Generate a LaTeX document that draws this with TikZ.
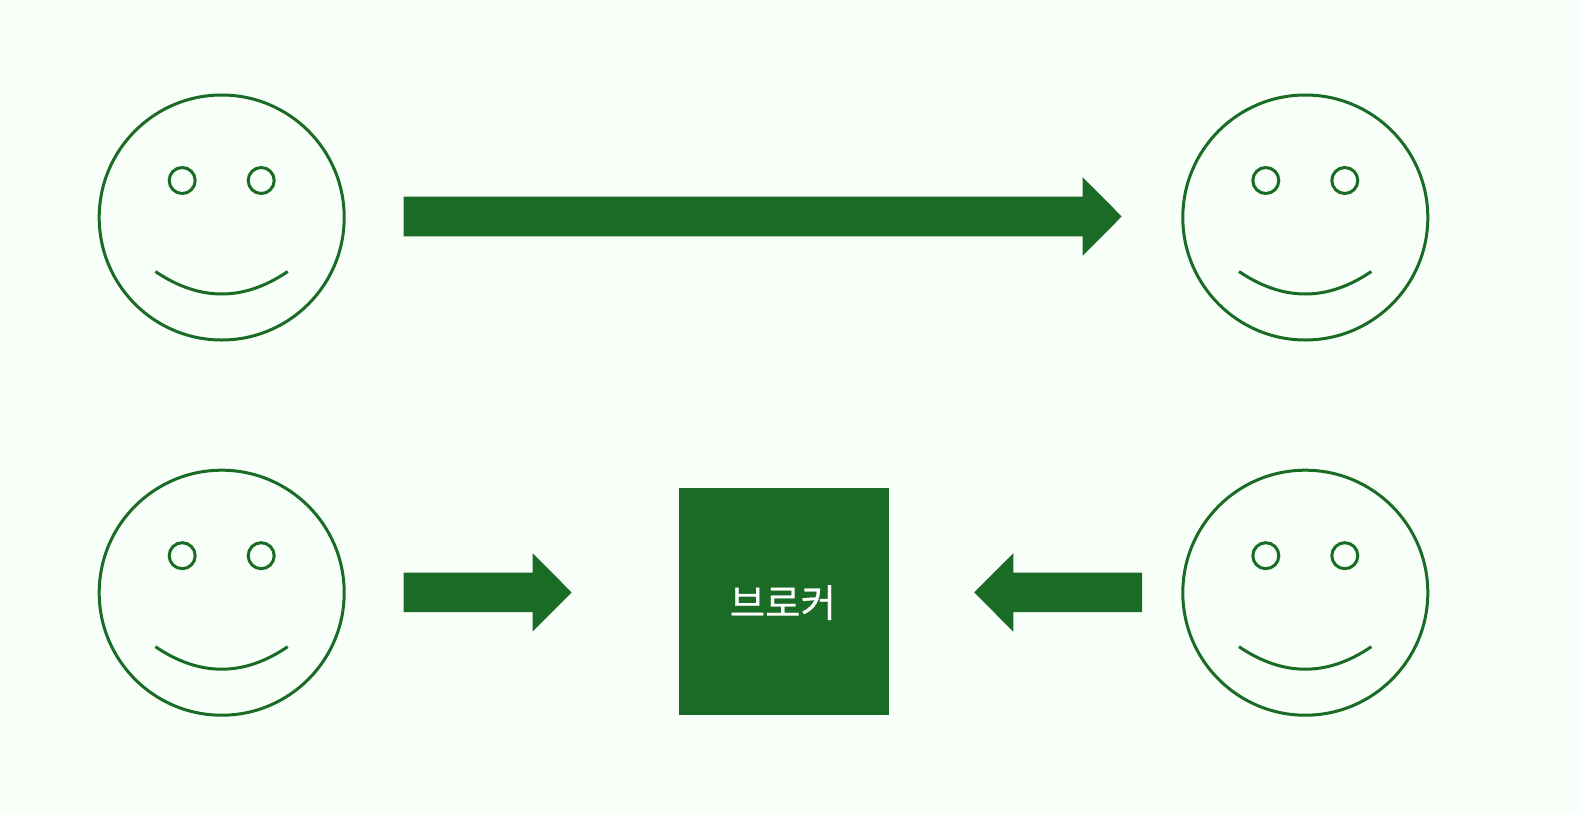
\documentclass[tikz,border=0pt]{standalone}
\usepackage{fontspec}
\newfontfamily\cjk{Noto Sans CJK KR}[FakeBold=0.4]
\definecolor{bgc}{HTML}{F8FEF8}
\definecolor{grn}{HTML}{1A6B25}
\tikzset{
  facering/.style={circle,draw=grn,line width=3pt,minimum size=245pt,inner sep=0pt},
  eyering/.style={circle,draw=grn,line width=3pt,minimum size=26pt,inner sep=0pt},
  smile/.style={draw=grn,line width=3pt},
  blockarrow/.style={fill=grn,draw=none},
  smiley/.pic={
    \node[facering] (-ring) at (0,0) {};
    \node[eyering] (-eyeL) at (-39.5,-37) {};
    \node[eyering] (-eyeR) at (39.5,-37) {};
    \draw[smile] (-66.3,54) .. controls (-22,84) and (22,84) .. (66,54);
  }
}
\begin{document}
\begin{tikzpicture}[x=1pt,y=-1pt]
\useasboundingbox (0,0) rectangle (1578,814);
\fill[bgc] (0,0) rectangle (1578,814);
\pic (f1) at (221.7,217.5) {smiley};
\pic (f2) at (1305.3,217.5) {smiley};
\pic (f3) at (221.7,592.7) {smiley};
\pic (f4) at (1305.3,592.7) {smiley};
\node[fill=grn,minimum width=210pt,minimum height=227pt,inner sep=0pt,anchor=north west] (broker) at (679,488) {};
\node[text=white,font=\cjk\fontsize{38.5}{44}\selectfont,inner sep=0pt] (brokerlabel) at (782.8,602.5) {브로커};
\fill[blockarrow] (403.6,196.7) -- (1082.7,196.7) -- (1082.7,177.3) -- (1121.7,216.5) -- (1082.7,255.7) -- (1082.7,236.3) -- (403.6,236.3) -- cycle;
\fill[blockarrow] (403.6,572.6) -- (532.6,572.6) -- (532.6,553.2) -- (571.6,592.4) -- (532.6,631.6) -- (532.6,612.2) -- (403.6,612.2) -- cycle;
\fill[blockarrow] (1142.2,572.6) -- (1013.3,572.6) -- (1013.3,553.2) -- (974.2,592.4) -- (1013.3,631.6) -- (1013.3,612.2) -- (1142.2,612.2) -- cycle;
\end{tikzpicture}
\end{document}
